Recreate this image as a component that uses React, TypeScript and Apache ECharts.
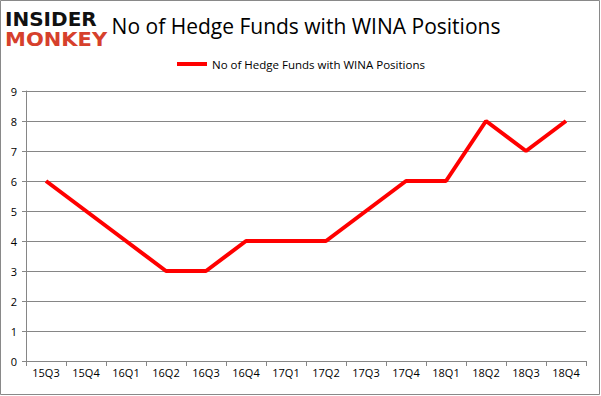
import React, { useEffect, useRef } from "react";
import * as echarts from "echarts";

const categories = ["15Q3", "15Q4", "16Q1", "16Q2", "16Q3", "16Q4", "17Q1", "17Q2", "17Q3", "17Q4", "18Q1", "18Q2", "18Q3", "18Q4"];
const values = [6, 5, 4, 3, 3, 4, 4, 4, 5, 6, 6, 8, 7, 8];
const seriesName = "No of Hedge Funds with WINA Positions";
const titleText = "No of Hedge Funds with WINA Positions";

export default function App() {
  const ref = useRef<HTMLDivElement>(null);
  useEffect(() => {
    if (!ref.current) return;
    const chart = echarts.init(ref.current, null, { renderer: "svg" });
    const font = "'Open Sans', 'Noto Sans', sans-serif";
    chart.setOption({
      animation: false,
      backgroundColor: "#ffffff",
      title: {
        text: titleText,
        left: 301,
        textAlign: "center",
        top: 10,
        textStyle: { fontFamily: font, fontSize: 21, fontWeight: "normal", color: "#000" },
      },
      legend: {
        data: [seriesName],
        top: 53,
        left: 172,
        itemWidth: 30,
        itemHeight: 4,
        itemGap: 6,
        icon: "rect",
        textStyle: { fontFamily: font, fontSize: 11.5, color: "#000" },
      },
      grid: { left: 26, right: 15, top: 91, bottom: 35 },
      xAxis: {
        type: "category",
        data: categories,
        boundaryGap: true,
        axisLine: { lineStyle: { color: "#868686", width: 1 } },
        axisTick: { show: true, alignWithLabel: false, length: 5, lineStyle: { color: "#868686" } },
        axisLabel: { fontFamily: font, fontSize: 11, color: "#000", margin: 6 },
      },
      yAxis: {
        type: "value",
        min: 0,
        max: 9,
        interval: 1,
        axisLine: { show: true, lineStyle: { color: "#868686" } },
        axisTick: { show: true, length: 4, lineStyle: { color: "#868686" } },
        splitLine: { lineStyle: { color: "#868686", width: 1 } },
        axisLabel: { fontFamily: font, fontSize: 11, color: "#000", margin: 9 },
      },
      series: [
        {
          name: seriesName,
          type: "line",
          data: values,
          showSymbol: false,
          symbol: "none",
          lineStyle: { color: "#ff0000", width: 4 },
          itemStyle: { color: "#ff0000" },
        },
      ],
      graphic: [
        {
          type: "rect",
          shape: { x: 0.5, y: 0.5, width: 599, height: 394 },
          style: { fill: "none", stroke: "#898989", lineWidth: 1 },
          silent: true,
          z: 100,
        },
        {
          type: "rect",
          shape: { x: 2, y: 6, width: 104, height: 46 },
          style: { fill: "#ffffff" },
          z: 101,
        },
        {
          type: "text",
          x: 5,
          y: 9,
          style: {
            text: "INSIDER",
            fill: "#111111",
            fontFamily: "'DejaVu Sans', sans-serif",
            fontWeight: 900,
            fontSize: 20,
            lineHeight: 19,
            textVerticalAlign: "top",
          },
          z: 102,
        },
        {
          type: "text",
          x: 5,
          y: 30,
          scaleX: 1.05,
          style: {
            text: "MONKEY",
            fill: "#d6402c",
            fontFamily: "'DejaVu Sans', sans-serif",
            fontWeight: 900,
            fontSize: 20,
            lineHeight: 19,
            textVerticalAlign: "top",
          },
          z: 102,
        },
      ],
    });
    return () => chart.dispose();
  }, []);
  return <div ref={ref} style={{ position: "fixed", left: 0, top: 0, width: 601, height: 396 }} />;
}
